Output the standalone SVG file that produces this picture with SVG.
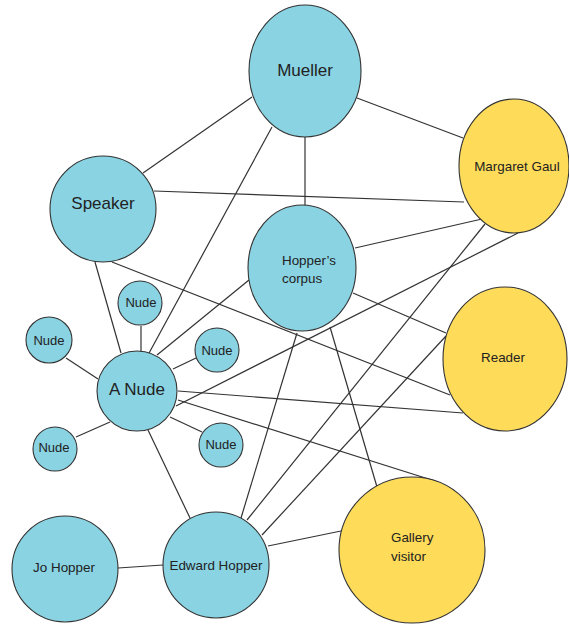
<svg xmlns="http://www.w3.org/2000/svg" width="569" height="624" viewBox="0 0 569 624">
<style>
.edge{stroke:#333;stroke-width:1.2;fill:none}
.b{fill:#89d3e2;stroke:#333;stroke-width:1.1}
.y{fill:#fedb58;stroke:#333;stroke-width:1.1}
text{font-family:"Liberation Sans",Arial,sans-serif;fill:#222}
.L{font-size:17px;text-anchor:middle}
.M{font-size:13.4px;text-anchor:middle}
.S{font-size:13px;text-anchor:middle}
.ML{font-size:13.4px;text-anchor:start}
</style>
<rect width="569" height="624" fill="#fff"/>
<g id="connectors">
<line class="edge" x1="143" y1="173" x2="252" y2="97"/>
<line class="edge" x1="154" y1="191" x2="464" y2="202"/>
<line class="edge" x1="357" y1="98" x2="463" y2="138"/>
<line class="edge" x1="305" y1="137" x2="305" y2="207"/>
<line class="edge" x1="272" y1="127" x2="148" y2="355"/>
<line class="edge" x1="95" y1="262" x2="121" y2="353"/>
<line class="edge" x1="112" y1="262" x2="450" y2="395"/>
<line class="edge" x1="355" y1="248" x2="482" y2="219"/>
<line class="edge" x1="353" y1="293" x2="446" y2="333"/>
<line class="edge" x1="249" y1="280" x2="157" y2="355"/>
<line class="edge" x1="330" y1="327" x2="377" y2="487"/>
<line class="edge" x1="297" y1="333" x2="241" y2="518"/>
<line class="edge" x1="485" y1="224" x2="247" y2="520"/>
<line class="edge" x1="518" y1="233" x2="176" y2="406"/>
<line class="edge" x1="446" y1="336" x2="262" y2="535"/>
<line class="edge" x1="341" y1="531" x2="268" y2="546"/>
<line class="edge" x1="178" y1="400" x2="438" y2="482"/>
<line class="edge" x1="178" y1="391" x2="463" y2="413"/>
<line class="edge" x1="148" y1="430" x2="190" y2="518"/>
<line class="edge" x1="118" y1="568" x2="163" y2="565"/>
<line class="edge" x1="141" y1="326" x2="141" y2="352"/>
<line class="edge" x1="66" y1="358" x2="98" y2="379"/>
<line class="edge" x1="196" y1="358" x2="173" y2="369"/>
<line class="edge" x1="76" y1="437" x2="110" y2="422"/>
<line class="edge" x1="202" y1="432" x2="170" y2="417"/>
</g>
<g id="mueller"><ellipse class="b" cx="305" cy="71" rx="56" ry="66"/><text class="L" x="305" y="76">Mueller</text></g>
<g id="margaret-gaul"><ellipse class="y" cx="514" cy="166" rx="55" ry="67"/><text class="M" x="517" y="171">Margaret Gaul</text></g>
<g id="speaker"><circle class="b" cx="103" cy="209" r="53"/><text class="L" x="103" y="209">Speaker</text></g>
<g id="hoppers-corpus"><ellipse class="b" cx="302" cy="268" rx="54" ry="63"/><text class="ML" x="282" y="265">Hopper’s</text><text class="ML" x="282" y="283">corpus</text></g>
<g id="reader"><ellipse class="y" cx="505" cy="359" rx="62" ry="72"/><text class="M" x="503" y="362">Reader</text></g>
<g id="gallery-visitor"><circle class="y" cx="412" cy="550" r="73"/><text class="ML" x="391" y="542">Gallery</text><text class="ML" x="391" y="561">visitor</text></g>
<g id="a-nude"><circle class="b" cx="137" cy="391" r="40"/><text class="L" x="137" y="395">A Nude</text></g>
<g id="nude-top"><circle class="b" cx="140" cy="303" r="22"/><text class="S" x="141" y="307">Nude</text></g>
<g id="nude-left"><circle class="b" cx="49" cy="340" r="23"/><text class="S" x="49" y="345">Nude</text></g>
<g id="nude-upper-right"><circle class="b" cx="217" cy="350" r="22"/><text class="S" x="217" y="355">Nude</text></g>
<g id="nude-lower-left"><circle class="b" cx="55" cy="449" r="22"/><text class="S" x="54" y="452">Nude</text></g>
<g id="nude-lower-right"><circle class="b" cx="221" cy="445" r="22"/><text class="S" x="221" y="449">Nude</text></g>
<g id="jo-hopper"><circle class="b" cx="65" cy="569" r="53"/><text class="M" x="64" y="572">Jo Hopper</text></g>
<g id="edward-hopper"><circle class="b" cx="216" cy="565" r="53"/><text class="M" x="216" y="570">Edward Hopper</text></g>
</svg>
